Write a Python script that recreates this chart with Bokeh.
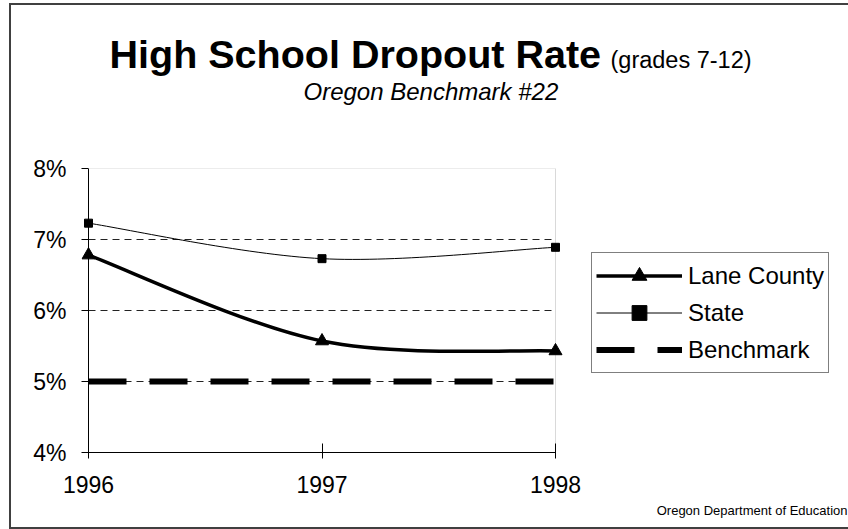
from bokeh.plotting import figure
from bokeh.models import (Range1d, FixedTicker, PrintfTickFormatter, Label, Legend,
                          LegendItem, Span, BoxAnnotation, ColumnDataSource)
from bokeh.embed import file_html
from bokeh.resources import INLINE

# ---- data ----
years = [1996, 1997, 1998]
lane_county = [6.78, 5.57, 5.43]
state = [7.23, 6.73, 6.89]
benchmark = [5.0, 5.0, 5.0]
y_ticks = [4, 5, 6, 7, 8]
grid_ticks = [5, 6, 7]
title_main = "High School Dropout Rate"
title_note = "(grades 7-12)"
subtitle = "Oregon Benchmark #22"
source_note = "Oregon Department of Education"

FONT = "Liberation Sans"
W, H = 839, 526
X_FIRST, X_LAST = 77, 544            # canvas px of first / last year
FL, FR, FT, FB = 70, 837, 163, 447   # frame edges in canvas px


def smooth(xs, ys):
    """Catmull-Rom style bezier segments (like a spreadsheet 'smoothed line')."""
    n = len(xs)
    d = dict(x0=[], y0=[], x1=[], y1=[], cx0=[], cy0=[], cx1=[], cy1=[])

    def pt(k):
        k = max(0, min(n - 1, k))
        return xs[k], ys[k]

    for i in range(n - 1):
        xa, ya = pt(i)
        xb, yb = pt(i + 1)
        xm, ym = pt(i - 1)
        xn, yn = pt(i + 2)
        d["x0"].append(xa); d["y0"].append(ya)
        d["x1"].append(xb); d["y1"].append(yb)
        d["cx0"].append(xa + (xb - xm) / 6.0); d["cy0"].append(ya + (yb - ym) / 6.0)
        d["cx1"].append(xb - (xn - xa) / 6.0); d["cy1"].append(yb - (yn - ya) / 6.0)
    return ColumnDataSource(d)


px_per_year = (X_LAST - X_FIRST) / (years[-1] - years[0])
x_start = years[0] - (X_FIRST - FL) / px_per_year
x_end = years[-1] + (FR - X_LAST) / px_per_year

p = figure(width=W, height=H, output_backend="svg", toolbar_location=None,
           x_range=Range1d(x_start, x_end),
           y_range=Range1d(y_ticks[0], y_ticks[-1]),
           min_border_left=FL, min_border_right=W - FR,
           min_border_top=FT, min_border_bottom=H - FB)
p.title.visible = False
p.outline_line_color = None
p.background_fill_color = "white"
p.border_fill_color = "white"
p.styles = {"margin-left": "9px", "margin-top": "3px",
            "border-left": "2px solid #404040",
            "border-top": "2px solid #404040",
            "border-bottom": "2px solid #404040"}

# axes
p.xaxis.ticker = FixedTicker(ticks=years)
p.xaxis.bounds = (years[0], years[-1])
p.xaxis.axis_line_color = "black"
p.xaxis.major_tick_in = 9
p.xaxis.major_tick_out = 6
p.xaxis.minor_tick_line_color = None
p.xaxis.major_label_standoff = 17
p.xaxis.major_label_text_font = FONT
p.xaxis.major_label_text_font_size = "23px"
p.xaxis.major_label_text_color = "black"

p.yaxis.ticker = FixedTicker(ticks=y_ticks)
p.yaxis.formatter = PrintfTickFormatter(format="%d%%")
p.yaxis.axis_line_color = None
p.yaxis.major_tick_in = X_FIRST - FL
p.yaxis.major_tick_out = 0
p.yaxis.minor_tick_line_color = None
p.yaxis.major_label_standoff = 15
p.yaxis.major_label_text_font = FONT
p.yaxis.major_label_text_font_size = "23px"
p.yaxis.major_label_text_color = "black"

p.xgrid.grid_line_color = None
p.ygrid.grid_line_color = None

# dashed horizontal gridlines, limited to the plot area
p.segment(x0=[years[0]] * len(grid_ticks), x1=[years[-1]] * len(grid_ticks),
          y0=grid_ticks, y1=grid_ticks, line_color="#222222", line_width=1,
          line_dash="7 5", level="underlay")

# plot-area frame (gray top/right) and black left axis line
p.add_layout(BoxAnnotation(left=years[0], right=years[-1], bottom=y_ticks[0], top=y_ticks[-1],
                           fill_color=None, line_color="#808080", line_width=1, level="underlay"))
p.add_layout(Span(location=years[0], dimension="height", line_color="black", line_width=1))

# series
bench_r = p.line(years, benchmark, line_color="black", line_width=6, line_dash="38 23")

state_curve = p.bezier(x0="x0", y0="y0", x1="x1", y1="y1", cx0="cx0", cy0="cy0",
                       cx1="cx1", cy1="cy1", source=smooth(years, state),
                       line_color="black", line_width=1)
state_leg = p.line(years, state, line_color="black", line_width=1, visible=False)
state_mk = p.scatter(years, state, marker="square", size=8, color="black")

lane_curve = p.bezier(x0="x0", y0="y0", x1="x1", y1="y1", cx0="cx0", cy0="cy0",
                      cx1="cx1", cy1="cy1", source=smooth(years, lane_county),
                      line_color="black", line_width=3.5)
lane_leg = p.line(years, lane_county, line_color="black", line_width=3.5, visible=False)
lane_mk = p.scatter(years, lane_county, marker="triangle", size=13, color="black")

legend = Legend(items=[
    LegendItem(label="Lane County", renderers=[lane_leg, lane_mk]),
    LegendItem(label="State", renderers=[state_leg, state_mk]),
    LegendItem(label="Benchmark", renderers=[bench_r]),
])
legend.location = (580 - FL, FB - 368)
legend.margin = 0
legend.padding = 4
legend.spacing = 0
legend.label_height = 37
legend.glyph_height = 37
legend.glyph_width = 86
legend.label_standoff = 6
legend.label_text_font = FONT
legend.label_text_font_size = "24px"
legend.label_text_color = "black"
legend.border_line_color = "black"
legend.border_line_width = 1
legend.background_fill_color = "white"
legend.background_fill_alpha = 1
p.add_layout(legend)

p.add_layout(Label(x=96, y=46, x_units="canvas", y_units="canvas", text=title_main,
                   text_font=FONT, text_font_style="bold", text_font_size="39.5px",
                   text_color="black", text_baseline="middle"), "above")
p.add_layout(Label(x=597, y=52.5, x_units="canvas", y_units="canvas", text=title_note,
                   text_font=FONT, text_font_size="23.5px",
                   text_color="black", text_baseline="middle"), "above")
p.add_layout(Label(x=290, y=84, x_units="canvas", y_units="canvas", text=subtitle,
                   text_font=FONT, text_font_style="italic", text_font_size="24px",
                   text_color="black", text_baseline="middle"), "above")
p.add_layout(Label(x=834, y=503, x_units="canvas", y_units="canvas", text=source_note,
                   text_font=FONT, text_font_size="13px", text_align="right",
                   text_color="black", text_baseline="middle"), "below")

open("out.html", "w").write(file_html(p, INLINE))
